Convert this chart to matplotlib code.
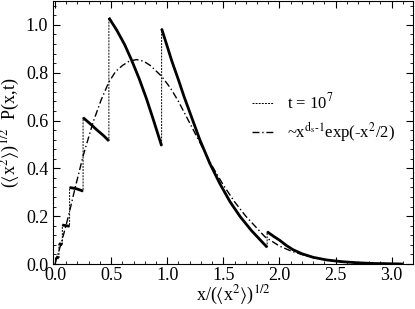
import matplotlib.pyplot as plt
from matplotlib.ticker import MultipleLocator

plt.rcParams['font.family'] = ['Liberation Serif', 'DejaVu Serif']
plt.rcParams['mathtext.fontset'] = 'stix'

# 分段数据 (t = 10^7)
seg_x = [
    [0.01, 0.035],
    [0.035, 0.065],
    [0.065, 0.13],
    [0.13, 0.19, 0.25],
    [0.25, 0.31, 0.37, 0.43, 0.48],
    [0.48, 0.55, 0.62, 0.683, 0.75, 0.816, 0.88, 0.95],
    [0.95, 1.0, 1.04, 1.1, 1.15, 1.22, 1.29, 1.38, 1.47, 1.56, 1.65, 1.75, 1.82, 1.89],
    [1.89, 1.95, 2.0, 2.06, 2.12, 2.2, 2.3, 2.42, 2.55, 2.7, 2.85, 3.0, 3.1],
]
seg_y = [
    [0.03, 0.025],
    [0.086, 0.08],
    [0.163, 0.158],
    [0.32, 0.315, 0.305],
    [0.612, 0.588, 0.562, 0.538, 0.515],
    [1.03, 0.978, 0.918, 0.852, 0.775, 0.69, 0.598, 0.494],
    [0.984, 0.91, 0.85, 0.77, 0.70, 0.61, 0.52, 0.42, 0.335, 0.26, 0.198, 0.14, 0.105, 0.07],
    [0.135, 0.115, 0.10, 0.078, 0.06, 0.043, 0.028, 0.017, 0.01, 0.005, 0.002, 0.001, 0.0],
]

# 理论曲线 ~x^(ds-1) exp(-x^2/2)
fit_x = [0.0, 0.06, 0.118, 0.18, 0.252, 0.34, 0.41, 0.48, 0.54, 0.6, 0.66, 0.727,
         0.79, 0.85, 0.95, 1.03, 1.1, 1.2, 1.3, 1.4, 1.5, 1.6, 1.7, 1.87,
         2.0, 2.1, 2.25, 2.4, 2.6, 2.8, 3.1]
fit_y = [0.0, 0.095, 0.197, 0.32, 0.455, 0.594, 0.685, 0.761, 0.805, 0.83, 0.848, 0.855,
         0.848, 0.83, 0.785, 0.735, 0.68, 0.59, 0.5, 0.41, 0.33, 0.26, 0.2, 0.114,
         0.075, 0.055, 0.032, 0.018, 0.008, 0.003, 0.001]

fig = plt.figure(figsize=(4.15, 3.09), dpi=100)
ax = fig.add_axes([0.1277, 0.1456, 0.8675, 0.8512])

# 细虚线把各段连起来
all_x = [v for s in seg_x for v in s]
all_y = [v for s in seg_y for v in s]
ax.plot(all_x, all_y, color='black', lw=0.7, ls=(0, (2, 1.2)), label='t = 10$^{7}$')

for xs, ys in zip(seg_x, seg_y):
    ax.plot(xs, ys, color='black', lw=2.0, solid_capstyle='butt')

ax.plot(fit_x, fit_y, color='black', lw=1.0, ls=(0, (5, 2, 1, 2)),
        label='~x$^{\\mathrm{d_s\\text{-}1}}$exp(-x$^{2}$/2)')

ax.set_xlim(-0.018, 3.19)
ax.set_ylim(0, 1.1)
ax.xaxis.set_major_locator(MultipleLocator(0.5))
ax.xaxis.set_minor_locator(MultipleLocator(0.1))
ax.yaxis.set_major_locator(MultipleLocator(0.2))
ax.yaxis.set_minor_locator(MultipleLocator(0.04))
ax.tick_params(which='both', direction='in', top=True, right=True, labelsize=13)
ax.tick_params(axis='x', pad=2)
ax.tick_params(which='major', length=5)
ax.tick_params(which='minor', length=2.5)

ax.set_xlabel(r'x/($\langle$x$^{2}\rangle$)$^{1/2}$', fontsize=13, labelpad=0)
ax.set_ylabel(r'($\langle$x$^{2}\rangle$)$^{1/2}$  P(x,t)', fontsize=13, labelpad=3)

ax.legend(loc='center left', bbox_to_anchor=(0.51, 0.555), frameon=False, fontsize=12,
          handlelength=1.3, handletextpad=0.8, labelspacing=0.45)

plt.savefig('out.png', dpi=100)
